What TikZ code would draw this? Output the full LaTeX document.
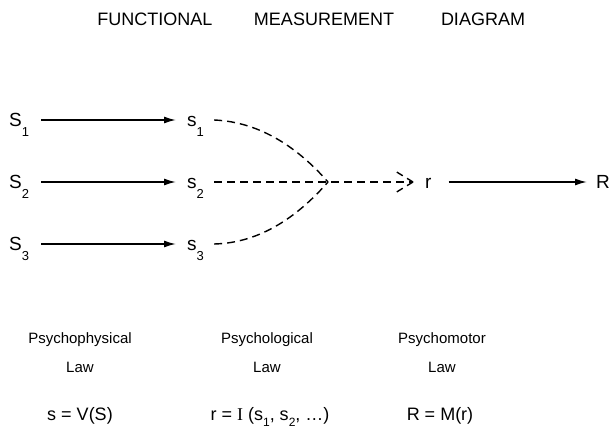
\documentclass[tikz,border=0pt]{standalone}
\usepackage{fontspec}
\setmainfont{Liberation Sans}
\newfontfamily\serifI{Liberation Serif}
\usetikzlibrary{arrows.meta}
\newcommand{\subd}[1]{\raisebox{-10pt}{\fontsize{13}{13}\selectfont #1}}
\newcommand{\subf}[1]{\raisebox{-6pt}{\fontsize{12}{12}\selectfont #1}}
\tikzset{
  title/.style={font=\fontsize{18}{18}\selectfont, anchor=base},
  var/.style={font=\fontsize{19}{19}\selectfont, anchor=west, inner sep=0pt, text height=13pt, text depth=0pt},
  lawtxt/.style={font=\fontsize{15}{15}\selectfont, anchor=base},
  formula/.style={font=\fontsize{18}{18}\selectfont, anchor=base},
  solidarrow/.style={line width=1.5pt, -{Latex[length=12pt,width=7pt]}},
  dashline/.style={line width=1.4pt, dash pattern=on 8pt off 5pt},
  barb/.style={line width=1.4pt, dash pattern=on 7pt off 5pt},
}
\begin{document}
\begin{tikzpicture}[x=1pt,y=-1pt]
\useasboundingbox (0,0) rectangle (610,433);
% title
\node[title] (t1) at (155,26) {FUNCTIONAL};
\node[title] (t2) at (324,26) {MEASUREMENT};
\node[title] (t3) at (483,26) {DIAGRAM};
% stimuli and responses
\node[var] (S1) at (9,120) {S\subd{1}};
\node[var] (S2) at (9,182) {S\subd{2}};
\node[var] (S3) at (9,244) {S\subd{3}};
\node[var] (s1) at (187,120) {s\subd{1}};
\node[var] (s2) at (187,182) {s\subd{2}};
\node[var] (s3) at (187,244) {s\subd{3}};
\node[var] (r) at (425,182) {r};
\node[var] (R) at (596,182) {R};
\coordinate (J) at (328,182);
\coordinate (T) at (413,182);
% solid arrows
\draw[solidarrow, shorten <=12pt, shorten >=11pt] (S1) -- (s1);
\draw[solidarrow, shorten <=12pt, shorten >=11pt] (S2) -- (s2);
\draw[solidarrow, shorten <=12pt, shorten >=11pt] (S3) -- (s3);
\draw[solidarrow, shorten <=17pt, shorten >=9pt] (r) -- (R);
% dashed integration
\draw[dashline] ([xshift=10pt]s1.east) .. controls (262,122) and (300,150) .. (J);
\draw[dashline] ([xshift=10pt]s3.east) .. controls (262,243) and (300,214) .. (J);
\draw[dashline] ([xshift=10pt]s2.east) -- (J) -- (T);
\draw[barb] (T) -- ++(-18,-11);
\draw[barb] (T) -- ++(-18,11);
% laws
\node[lawtxt] (l1) at (80,343) {Psychophysical};
\node[lawtxt] (l1b) at (80,372) {Law};
\node[lawtxt] (l2) at (267,343) {Psychological};
\node[lawtxt] (l2b) at (267,372) {Law};
\node[lawtxt] (l3) at (442,343) {Psychomotor};
\node[lawtxt] (l3b) at (442,372) {Law};
\node[formula] (f1) at (80,420) {s = V(S)};
\node[formula] (f2) at (270,420) {r = {\serifI I} (s\subf{1}, s\subf{2}, \ldots)};
\node[formula] (f3) at (440,420) {R = M(r)};
\end{tikzpicture}
\end{document}
